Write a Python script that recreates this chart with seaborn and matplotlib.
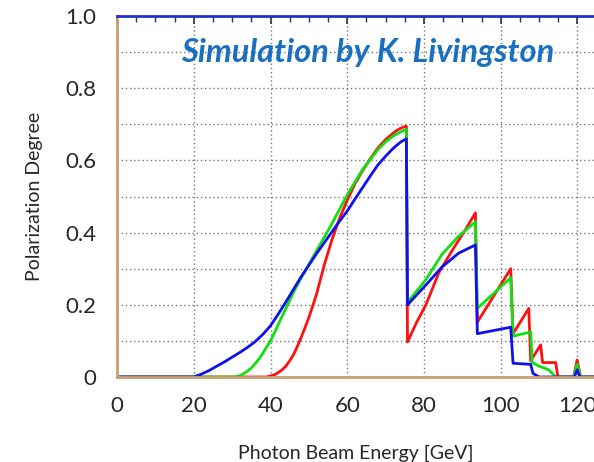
import matplotlib
matplotlib.use("Agg")
import matplotlib.pyplot as plt
import seaborn as sns
import numpy as np
import pandas as pd
from matplotlib.ticker import MultipleLocator, FuncFormatter

# values (GeV, polarization); repeated x = step
red_x = [0, 39, 40, 41, 42, 43, 44, 45, 46, 47, 48, 49, 50, 51, 52, 53, 54, 55, 56, 57, 58, 59,
         60, 62, 64, 66, 68, 70, 72, 73, 74, 75, 75.4,
         75.7, 78, 80.5, 83.9, 87.3, 90.9, 93.4,
         93.9, 102.6, 103.2, 107.3, 107.8, 110.4, 110.9, 114.3, 114.9,
         119.0, 119.9, 120.8, 125]
red_y = [0, 0, 0.003, 0.006, 0.012, 0.02, 0.03, 0.045, 0.062, 0.085, 0.11, 0.137, 0.165, 0.197, 0.23, 0.27, 0.31, 0.345, 0.38, 0.41, 0.44, 0.465,
         0.49, 0.535, 0.572, 0.605, 0.635, 0.658, 0.676, 0.684, 0.69, 0.694, 0.695,
         0.097, 0.15, 0.20, 0.29, 0.35, 0.41, 0.455,
         0.152, 0.30, 0.12, 0.19, 0.045, 0.089, 0.04, 0.04, 0.0,
         0.0, 0.047, 0.0, 0.0]

green_x = [0, 31, 32, 33, 34, 35, 36, 37, 38, 39, 40, 41, 42, 43, 44, 46, 48, 50, 52, 54, 56, 58,
           60, 62, 64, 66, 68, 70, 72, 74, 75.4,
           75.7, 80.5, 84.7, 89, 93.4,
           93.9, 102.6, 103.2, 107.8, 108.2, 110, 112.5, 114.3,
           119.0, 119.9, 120.8, 125]
green_y = [0, 0, 0.004, 0.009, 0.016, 0.025, 0.037, 0.05, 0.066, 0.083, 0.10, 0.122, 0.145, 0.168, 0.19, 0.235, 0.275, 0.312, 0.35, 0.387, 0.425, 0.465,
           0.505, 0.54, 0.575, 0.603, 0.63, 0.652, 0.668, 0.68, 0.686,
           0.207, 0.27, 0.34, 0.39, 0.43,
           0.19, 0.275, 0.113, 0.125, 0.04, 0.03, 0.02, 0.0,
           0.0, 0.035, 0.0, 0.0]

blue_x = [0, 20, 22, 24, 26, 28, 30, 32, 34, 36, 38, 40, 42, 44, 46, 48, 50, 52, 54, 56, 58,
          60, 62, 64, 66, 68, 70, 72, 74, 75.4,
          75.7, 80.5, 84.7, 89, 93.4,
          93.9, 102.6, 103.2, 107.8, 108.4, 110,
          119.2, 119.9, 120.6, 125]
blue_y = [0, 0, 0.008, 0.018, 0.03, 0.042, 0.055, 0.068, 0.082, 0.098, 0.118, 0.142, 0.174, 0.208, 0.243, 0.278, 0.31, 0.342, 0.372, 0.402, 0.432,
          0.46, 0.493, 0.525, 0.557, 0.588, 0.612, 0.634, 0.652, 0.66,
          0.20, 0.255, 0.305, 0.343, 0.366,
          0.12, 0.138, 0.038, 0.035, 0.01, 0.0,
          0.0, 0.02, 0.0, 0.0]

sns.set_style("white")
plt.rcParams['font.family'] = ['Lato', 'DejaVu Sans']

fig = plt.figure(figsize=(5.94, 4.62), dpi=100)
ax = fig.add_axes([0.197, 0.184, 0.803, 0.781])

for xs, ys, col in [(red_x, red_y, '#ff1010'), (green_x, green_y, '#10e010'),
                    (blue_x, blue_y, '#1010ee')]:
    sns.lineplot(x=xs, y=ys, color=col, lw=2, sort=False, estimator=None, ax=ax)

ax.set_xlim(0, 124.3)
ax.set_ylim(0, 1.0)

ax.xaxis.set_major_locator(MultipleLocator(20))
ax.xaxis.set_minor_locator(MultipleLocator(5))
ax.yaxis.set_major_locator(MultipleLocator(0.1))
ax.yaxis.set_minor_locator(MultipleLocator(0.02))

def yfmt(v, pos):
    k = int(round(v * 10))
    if k % 2:
        return ''
    return '0' if k == 0 else f'{v:.1f}'

ax.yaxis.set_major_formatter(FuncFormatter(yfmt))
ax.grid(True, which='major', color='#777777', ls=(0, (1, 2)), lw=1)

ax.tick_params(which='major', direction='in', length=8, width=1.2, color='#333333',
               labelsize=16, top=True)
ax.tick_params(which='minor', direction='in', length=4, width=1, color='#333333', top=True)
ax.tick_params(axis='x', which='major', length=6, pad=14)
ax.tick_params(axis='y', which='major', pad=15)

for s in ['left', 'bottom']:
    ax.spines[s].set_color('#c8a070')
    ax.spines[s].set_linewidth(2)
ax.spines['top'].set_color('#2030d0')
ax.spines['top'].set_linewidth(2)
ax.spines['right'].set_visible(False)

ax.set_xlabel('Photon Beam Energy [GeV]', fontsize=14, labelpad=20)
ax.set_ylabel('Polarization Degree', fontsize=14, labelpad=16)

ax.text(0.525, 0.9, 'Simulation by K. Livingston', transform=ax.transAxes,
        ha='center', va='center', fontsize=23.5, fontweight='bold', style='italic',
        color='#1a70c0')

fig.savefig('out.png', dpi=100)
